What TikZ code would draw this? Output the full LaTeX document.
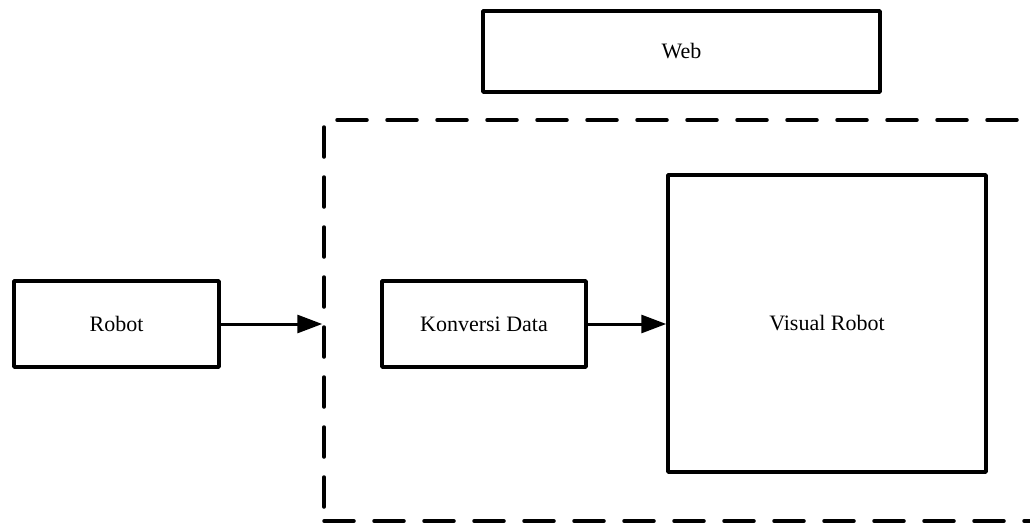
\documentclass[tikz,border=0pt]{standalone}
\usepackage{fontspec}
\setmainfont{Liberation Serif}
\usepackage{tikz}
\usetikzlibrary{arrows.meta,positioning}

\tikzset{
  block/.style={draw,line width=3.5pt,line join=round,inner sep=0pt,align=center,
    font=\fontsize{22}{26}\selectfont},
  frame/.style={draw,line width=3.5pt,line cap=round,dash pattern=on 30pt off 20pt,
    inner sep=0pt},
  flow/.style={line width=3pt,-{Triangle[length=25pt,width=18pt]}}
}

\begin{document}
\begin{tikzpicture}[x=1pt,y=-1pt]
\useasboundingbox (0,0) rectangle (1030,522);
\clip (0,0) rectangle (1030,522);

\node[block,minimum width=397pt,minimum height=81pt] (web) at (681.5,51.5) {Web};
% dashed area, runs off the right side of the page
\node[frame,minimum width=721pt,minimum height=401pt] (area) at (684.5,320.5) {};

\node[block,minimum width=205pt,minimum height=86pt] (robot) at (116.5,324) {Robot};
\node[block,minimum width=204pt,minimum height=86pt] (konversi) at (484,324) {Konversi Data};
\node[block,minimum width=318pt,minimum height=297pt] (visual) at (827,323.5) {Visual Robot};

\draw[flow] (robot.east) -- (robot.east -| area.west);
\draw[flow] (konversi.east) -- (konversi.east -| visual.west);
\end{tikzpicture}
\end{document}
